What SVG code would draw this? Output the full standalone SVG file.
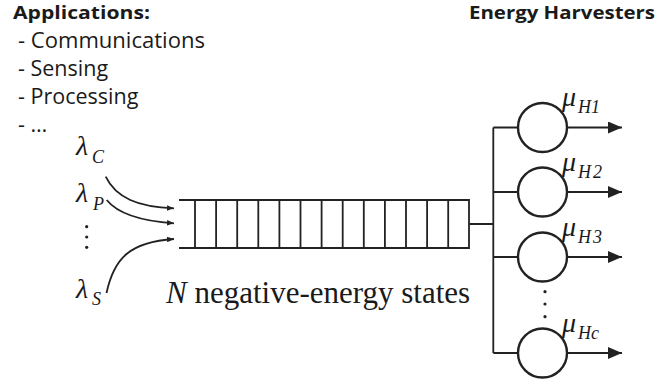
<svg xmlns="http://www.w3.org/2000/svg" width="658" height="383" viewBox="0 0 658 383">
<style>
.hd{font-family:"Open Sans","Liberation Sans",sans-serif;font-weight:bold;font-size:18.5px;fill:#1a1a1a}
.li{font-family:"Open Sans","Liberation Sans",sans-serif;font-size:21.5px;fill:#1a1a1a}
.sym{font-family:"Liberation Serif","Times New Roman",serif;font-style:italic;font-size:28px;fill:#1a1a1a}
.sub{font-family:"Liberation Serif","Times New Roman",serif;font-style:italic;font-size:18px;fill:#1a1a1a}
.big{font-family:"Liberation Serif","Times New Roman",serif;font-size:31px;fill:#1a1a1a}
.ln{stroke:#222;stroke-width:1.8;fill:none}
.srv{stroke:#222;stroke-width:2.4;fill:#fff}
</style>
<defs>
<marker id="sa" viewBox="0 0 10 8" refX="10" refY="4" markerWidth="7" markerHeight="5.6" markerUnits="userSpaceOnUse" orient="auto">
<path d="M0,0 L10,4 L0,8 Z" fill="#222"/>
</marker>
<marker id="la" viewBox="0 0 14 12" refX="14" refY="6" markerWidth="14" markerHeight="12" markerUnits="userSpaceOnUse" orient="auto">
<path d="M0,0 L14,6 L0,12 Z" fill="#222"/>
</marker>
</defs>
<g id="labels">
<text class="hd" x="13" y="19" textLength="137" lengthAdjust="spacingAndGlyphs">Applications:</text>
<text class="li" x="18" y="47.5" textLength="187" lengthAdjust="spacingAndGlyphs">- Communications</text>
<text class="li" x="18" y="75.5">- Sensing</text>
<text class="li" x="18" y="104">- Processing</text>
<text class="li" x="18" y="132">- …</text>
<text class="hd" x="469" y="19" textLength="186" lengthAdjust="spacingAndGlyphs">Energy Harvesters</text>
</g>
<g id="sources">
<text class="sym" x="76" y="155">λ<tspan class="sub" x="92" y="163">C</tspan></text>
<text class="sym" x="76" y="202">λ<tspan class="sub" x="93" y="210">P</tspan></text>
<text class="sym" x="76" y="298">λ<tspan class="sub" x="92" y="305">S</tspan></text>
<circle cx="86.7" cy="226.7" r="1.6" fill="#222"/>
<circle cx="86.7" cy="237" r="1.6" fill="#222"/>
<circle cx="86.7" cy="247.3" r="1.6" fill="#222"/>
</g>
<g id="queue">
<path class="ln" d="M179,200 H469 V248 H179"/>
<path class="ln" d="M195,200 V248 M216.1,200 V248 M237.2,200 V248 M258.3,200 V248 M279.4,200 V248 M300.5,200 V248 M321.6,200 V248 M342.7,200 V248 M363.8,200 V248 M384.9,200 V248 M406,200 V248 M427.1,200 V248 M448.2,200 V248"/>
<text class="big" x="166" y="303"><tspan font-style="italic">N</tspan> negative-energy states</text>
</g>
<g id="connectors">
<path class="ln" d="M105.7,176.7 C116,198 138,207 174,208.3" marker-end="url(#sa)"/>
<path class="ln" d="M106.7,200 C118,214 140,221 174,223.3" marker-end="url(#sa)"/>
<path class="ln" d="M106.5,293 C114,258 130,242 174,239" marker-end="url(#sa)"/>
<path class="ln" d="M469,224 H493.3 M493.3,127.5 V353 M493.3,127.5 H518 M493.3,192 H518 M493.3,257 H518 M493.3,353 H518"/>
<path class="ln" d="M567,127.5 H622" marker-end="url(#la)"/>
<path class="ln" d="M567,192 H622" marker-end="url(#la)"/>
<path class="ln" d="M567,257 H622" marker-end="url(#la)"/>
<path class="ln" d="M567,353 H622" marker-end="url(#la)"/>
</g>
<g id="h1"><circle class="srv" cx="542.5" cy="127.5" r="24.5"/><text class="sym" x="562" y="106" font-size="26">μ<tspan class="sub" x="578" y="113">H</tspan><tspan class="sub" font-style="normal">1</tspan></text></g>
<g id="h2"><circle class="srv" cx="542.5" cy="192" r="24.5"/><text class="sym" x="562" y="170.5" font-size="26">μ<tspan class="sub" x="578" y="177.5">H</tspan><tspan class="sub" font-style="normal" dx="2">2</tspan></text></g>
<g id="h3"><circle class="srv" cx="542.5" cy="257" r="24.5"/><text class="sym" x="562" y="235.5" font-size="26">μ<tspan class="sub" x="578" y="242.5">H</tspan><tspan class="sub" font-style="normal" dx="2">3</tspan></text></g>
<g id="hdots">
<circle cx="545" cy="291.7" r="1.6" fill="#222"/>
<circle cx="545" cy="304" r="1.6" fill="#222"/>
<circle cx="545" cy="316.7" r="1.6" fill="#222"/>
</g>
<g id="hc"><circle class="srv" cx="542.5" cy="353" r="24.5"/><text class="sym" x="562" y="331.5" font-size="26">μ<tspan class="sub" x="578" y="338.5">Hc</tspan></text></g>
</svg>
